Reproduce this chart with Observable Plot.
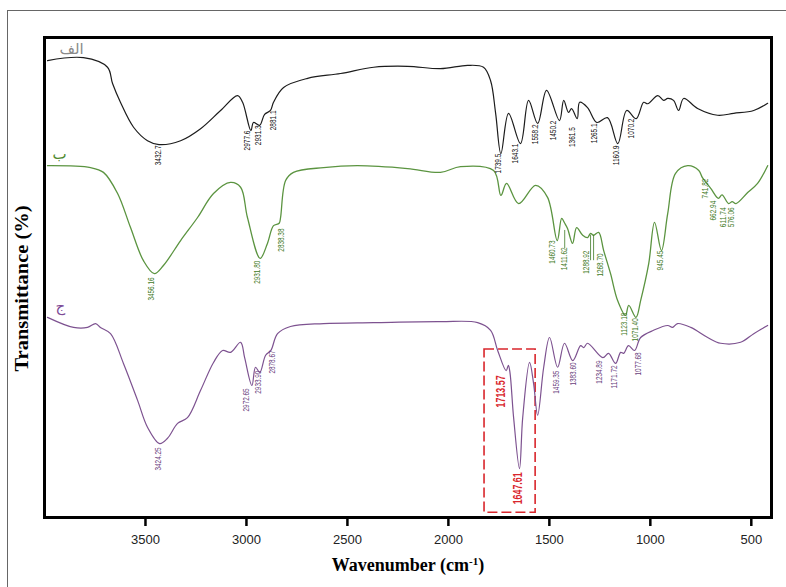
<!DOCTYPE html>
<html><head><meta charset="utf-8">
<script src="https://cdn.jsdelivr.net/npm/d3@7"></script>
<script src="https://cdn.jsdelivr.net/npm/@observablehq/plot@0.6"></script>
<style>
body{margin:0;background:#fff;}
#wrap{position:relative;width:786px;height:587px;overflow:hidden;background:#fff;}
#border{position:absolute;left:7px;top:10px;width:820px;height:620px;border-left:1px solid #666;border-top:1px solid #666;}
#chart{position:absolute;left:0;top:0;}
</style></head><body>
<div id="wrap"><div id="border"></div><div id="chart"></div></div>
<script>
// ---- data (wavenumber cm-1, transmittance a.u.) ----
const xTicks = [3500, 3000, 2500, 2000, 1500, 1000, 500];

const blackWn = [3985,3807,3688,3663,3624,3559,3490,3433,3326,3227,3128,3044,3019,2978,2965,2935,2910,2881,2866,2816,2697,2534,2370,2202,2039,1905,1826,1791,1766,1740,1702,1643,1603,1558,1514,1450,1429,1405,1390,1362,1350,1311,1265,1212,1161,1117,1070,1033,1013,963,934,914,885,860,835,766,667,587,488,419];
const blackT = [95.2,95.8,93.8,90.4,86.5,81.3,78.5,77.7,78.5,81.0,84.8,87.9,86.5,80.6,82.3,81.7,84.0,84.8,86.5,89.6,91.5,92.5,93.8,94.0,93.5,94.2,93.8,91.0,84.2,75.8,84.2,77.9,86.9,82.1,89.0,82.7,86.9,84.4,85.2,83.1,86.5,85.4,82.3,83.3,77.9,84.8,83.1,86.5,86.2,87.9,86.9,87.3,86.9,84.8,87.3,85.2,83.8,84.2,84.8,86.3];

const greenWn = [3985,3772,3708,3638,3574,3510,3456,3411,3326,3242,3163,3079,3029,2995,2932,2896,2866,2838,2831,2806,2767,2618,2450,2202,2039,1940,1776,1740,1712,1652,1568,1509,1461,1439,1424,1410,1385,1365,1335,1311,1296,1281,1256,1231,1197,1162,1123,1107,1071,1048,1008,979,945,914,875,815,760,742,700,663,645,612,595,576,518,469,419];
const greenT = [73.3,72.9,71.9,67.5,60.4,53.5,50.8,52.5,57.7,62.5,67.5,69.8,68.8,62.5,54.0,57.1,60.8,61.3,62.5,70.2,71.9,72.9,73.3,72.7,71.9,73.1,72.3,67.1,69.6,65.4,69.2,66.7,57.7,62.3,61.3,60.2,57.1,60.4,58.8,58.3,59.2,58.8,59.4,55.6,50.8,45.2,42.1,44.2,41.7,45.2,52.9,61.5,55.6,63.3,71.7,73.3,72.3,70.8,68.5,66.5,67.2,65.4,65.8,65.4,67.7,69.6,73.3];

const purpleWn = [3985,3856,3787,3747,3723,3673,3609,3539,3490,3430,3391,3341,3292,3227,3163,3118,3079,3029,3009,2973,2955,2934,2905,2879,2846,2782,2618,2370,2039,1855,1791,1756,1714,1703,1695,1677,1648,1632,1598,1578,1558,1528,1499,1459,1425,1384,1345,1330,1311,1235,1207,1172,1147,1132,1108,1078,1048,984,914,890,865,800,716,652,553,488,419];
const purpleT = [41.7,39.6,39.6,40.4,39.6,38.3,32.1,24.4,18.8,15.4,16.5,19.6,20.8,26.5,32.3,34.8,34.4,36.5,33.3,27.5,31.3,30.2,33.8,34.8,38.3,39.8,40.4,40.6,40.8,40.6,39.0,34.8,30.6,31.7,30.2,20.8,10.2,20.8,32.3,27.9,21.3,31.3,37.5,31.3,36.3,32.7,35.8,35.4,36.3,33.3,34.2,32.1,34.4,34.2,35.8,34.8,37.5,39.0,40.0,39.6,40.4,39.6,37.5,36.3,36.5,38.3,40.0];

const blackLabels = ["3432.7","2977.6","2931.3","2881.1","1739.5","1643.1","1558.2","1450.2","1361.5","1265.1","1160.9","1070.2"];
const blackLabelWn = [3435,2995,2940,2866,1756,1672,1573,1479,1385,1276,1167,1093];
const blackLabelT = [77.5,80.6,81.7,84.8,75.8,77.9,81.9,82.7,81.3,82.1,77.5,83.1];

const greenLabels = ["3456.16","2931.80","2838.38","1460.73","1411.62","1288.92","1268.70","1123.18","1071.40","945.45","741.82","662.94","611.74","576.06"];
const greenLabelWn = [3470,2945,2826,1484,1429,1320,1251,1132,1073,950,727,687,642,602];
const greenLabelT = [50.0,53.5,60.2,57.7,56.3,55.6,55.0,42.7,41.5,55.6,70.6,66.0,64.6,64.6];

const purpleLabels = ["3424.25","2972.65","2933.90","2878.67","1459.35","1383.60","1234.89","1171.72","1077.68"];
const purpleLabelWn = [3435,3000,2940,2871,1469,1380,1256,1177,1063];
const purpleLabelT = [14.6,26.9,30.6,34.8,30.6,32.3,32.7,31.7,34.4];

const redLabels = ["1713.57","1647.61"];
const redLabelWn = [1741,1657];
const redLabelT = [29.6,9.4];
const boxWn = [1821,1568];
const boxT = [35.0,1.0];

const leaderWn = [1424,1296,1281];
const leaderTop = [59.8,58.8,58.8];
const leaderBottom = [56.0,53.5,53.5];

const seriesNames = ["الف","ب","ج"];
const seriesNameWn = [3866,3926,3921];
const seriesNameT = [97.5,75.6,44.0];

// ---- build tables ----
const toRows = (wn, t) => wn.map((w, i) => ({wn: w, t: t[i]}));
const toLabels = (txt, wn, t) => txt.map((s, i) => ({label: s, wn: wn[i], t: t[i]}));

const cBlack = "#1c1c1c", cGreen = "#5b9440", cPurple = "#7d5290";
const lbBlack = "#111", lbGreen = "#3f7a26", lbPurple = "#6b3f80", cRed = "#d9262c";
const nameColors = ["#8a8a8a", "#4f8a2f", "#7d4a96"];

const pkFont = "'Liberation Sans Narrow','Arial Narrow','Liberation Sans',Arial,sans-serif";
const serif = "'Liberation Serif','Times New Roman',serif";

const plot = Plot.plot({
  width: 786, height: 587,
  marginLeft: 44, marginRight: 15, marginTop: 37, marginBottom: 70,
  x: {domain: [4000, 400]},
  y: {domain: [0, 100], axis: null},
  style: {background: "transparent", overflow: "visible"},
  marks: [
    Plot.rect([{x1: boxWn[0], x2: boxWn[1], y1: boxT[1], y2: boxT[0]}],
      {x1: "x1", x2: "x2", y1: "y1", y2: "y2", fill: "none", stroke: cRed, strokeWidth: 1.6, strokeDasharray: "10,4"}),
    Plot.line(toRows(blackWn, blackT), {x: "wn", y: "t", stroke: cBlack, strokeWidth: 1.2, curve: "catmull-rom"}),
    Plot.line(toRows(greenWn, greenT), {x: "wn", y: "t", stroke: cGreen, strokeWidth: 1.3, curve: "catmull-rom"}),
    Plot.line(toRows(purpleWn, purpleT), {x: "wn", y: "t", stroke: cPurple, strokeWidth: 1.2, curve: "catmull-rom"}),
    Plot.ruleX(leaderWn.map((w, i) => ({wn: w, a: leaderTop[i], b: leaderBottom[i]})),
      {x: "wn", y1: "a", y2: "b", stroke: lbGreen, strokeWidth: 0.8}),
    Plot.text(toLabels(blackLabels, blackLabelWn, blackLabelT), {x: "wn", y: "t", text: "label", rotate: -90, textAnchor: "end", fill: lbBlack, fontSize: 9, fontFamily: pkFont, className: "pk"}),
    Plot.text(toLabels(greenLabels, greenLabelWn, greenLabelT), {x: "wn", y: "t", text: "label", rotate: -90, textAnchor: "end", fill: lbGreen, fontSize: 9, fontFamily: pkFont, className: "pk"}),
    Plot.text(toLabels(purpleLabels, purpleLabelWn, purpleLabelT), {x: "wn", y: "t", text: "label", rotate: -90, textAnchor: "end", fill: lbPurple, fontSize: 9, fontFamily: pkFont, className: "pk"}),
    Plot.text(toLabels(redLabels, redLabelWn, redLabelT), {x: "wn", y: "t", text: "label", rotate: -90, textAnchor: "end", fill: cRed, fontSize: 13, fontWeight: "bold", fontFamily: pkFont, className: "pkred"}),
    Plot.text(toLabels(seriesNames, seriesNameWn, seriesNameT), {x: "wn", y: "t", text: "label", fill: (d) => nameColors[seriesNames.indexOf(d.label)], fontSize: 15, fontFamily: "'DejaVu Sans','Noto Sans',sans-serif"}),
    Plot.axisX({ticks: xTicks, tickSize: 9, tickPadding: 8, tickFormat: d => String(d), label: null, fontSize: 13, fontFamily: "'Liberation Sans',Arial,sans-serif", className: "xax"}),
    Plot.frame({stroke: "#000", strokeWidth: 3}),
    Plot.text(["Wavenumber (cm-1)"], {frameAnchor: "bottom", dy: 53, fontSize: 18, fontWeight: "bold", fontFamily: serif, fill: "#000", className: "xtitle"}),
    Plot.text(["Transmittance (%)"], {frameAnchor: "left", dx: -22, dy: 11, rotate: -90, textAnchor: "middle", fontSize: 18, fontWeight: "bold", fontFamily: serif, fill: "#000", className: "ytitle"})
  ]
});

document.getElementById("chart").appendChild(plot);

// condensed peak labels
d3.select(plot).selectAll("g.pk text").each(function() {
  const n = this.textContent.length;
  this.setAttribute("textLength", (n * 3.3).toFixed(1));
  this.setAttribute("lengthAdjust", "spacingAndGlyphs");
});
d3.select(plot).selectAll("g.pkred text").each(function() {
  this.setAttribute("textLength", "32");
  this.setAttribute("lengthAdjust", "spacingAndGlyphs");
});
d3.select(plot).selectAll("g.ytitle text").attr("textLength", 166).attr("lengthAdjust", "spacingAndGlyphs");
// thicker ticks
d3.select(plot).selectAll("g.xax path, g.xax line").attr("stroke-width", 2.5).attr("stroke", "#000");
d3.select(plot).selectAll("g.xax text").attr("fill", "#222");
// superscript in axis title
const tt = plot.querySelector("g.xtitle text");
if (tt) {
  tt.textContent = "";
  const ns = "http://www.w3.org/2000/svg";
  const a = document.createElementNS(ns, "tspan"); a.textContent = "Wavenumber (cm"; tt.appendChild(a);
  const b = document.createElementNS(ns, "tspan"); b.textContent = "-1"; b.setAttribute("dy", "-6"); b.setAttribute("font-size", "11"); tt.appendChild(b);
  const c = document.createElementNS(ns, "tspan"); c.textContent = ")"; c.setAttribute("dy", "6"); tt.appendChild(c);
}
</script></body></html>
